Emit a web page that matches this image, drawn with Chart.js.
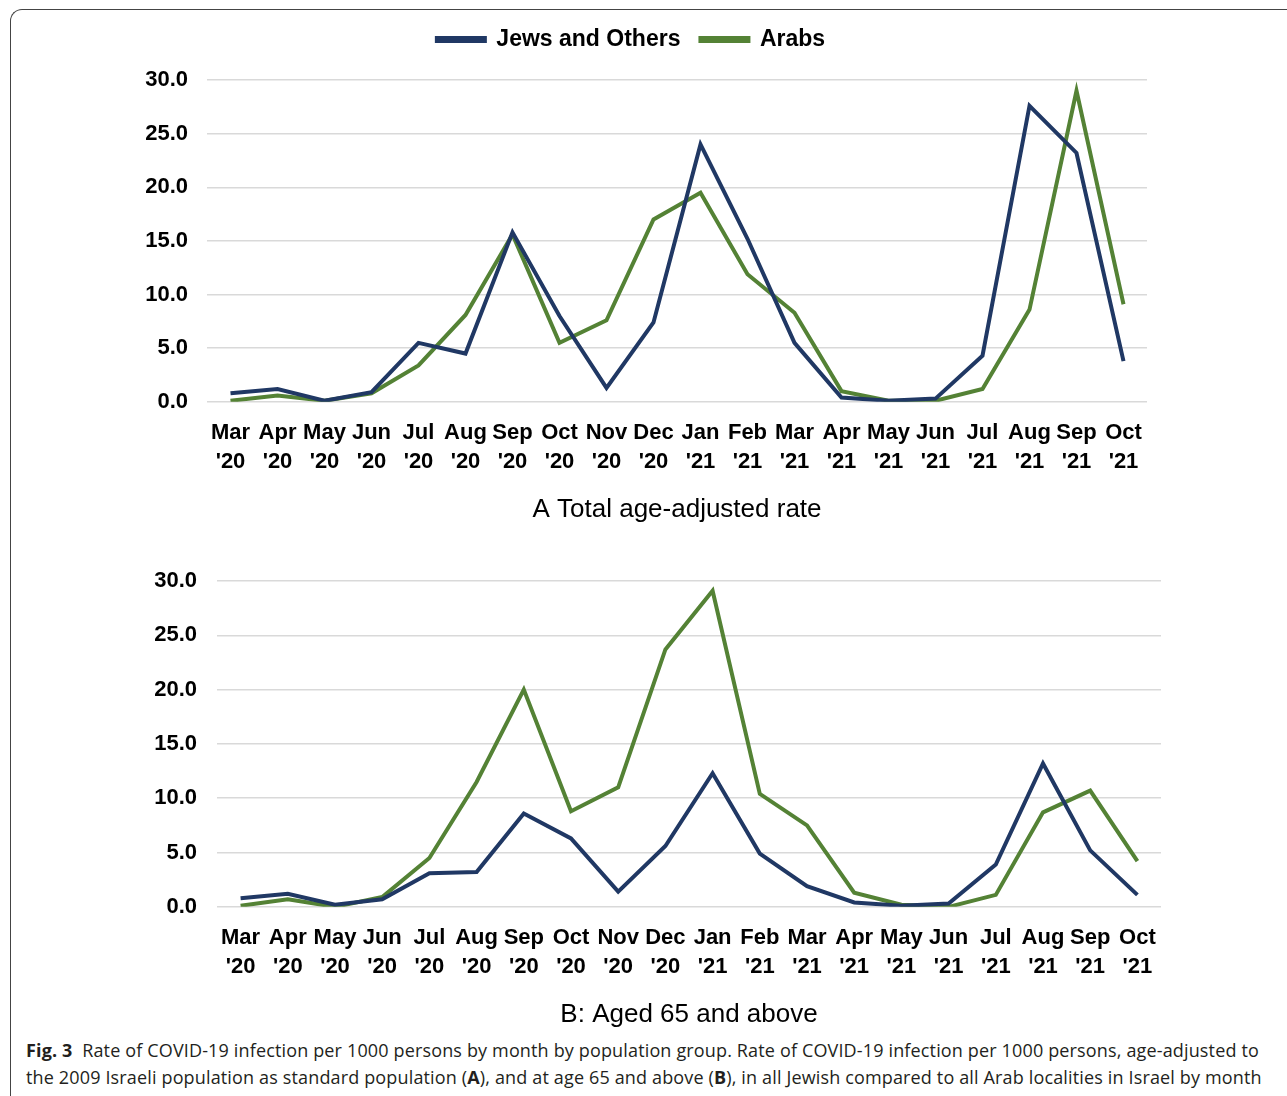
<!DOCTYPE html>
<html>
<head>
<meta charset="utf-8">
<script src="https://cdn.jsdelivr.net/npm/chart.js@4.4.1/dist/chart.umd.min.js"></script>
<style>
  body { margin: 0; background: #fff; width: 1287px; height: 1096px; overflow: hidden; position: relative; }
  .frame { position: absolute; left: 10px; top: 9px; width: 1400px; height: 1200px;
           border-left: 1.5px solid #444; border-top: 1.5px solid #444; border-top-left-radius: 12px; }
  .box { position: absolute; }
  .caption { position: absolute; left: 26px; top: 1037px; font-family: "Open Sans", "Noto Sans", sans-serif;
             font-size: 18px; line-height: 27px; color: #231f20; white-space: nowrap; letter-spacing: 0.15px; }
</style>
</head>
<body>
<div class="frame"></div>
<div class="box" id="boxA" style="left:115px; top:8px; width:1032px; height:517px;"><canvas id="chartA"></canvas></div>
<div class="box" id="boxB" style="left:125px; top:560px; width:1036px; height:470px;"><canvas id="chartB"></canvas></div>
<div class="caption">
  <b>Fig. 3</b>&nbsp; Rate of COVID-19 infection per 1000 persons by month by population group. Rate of COVID-19 infection per 1000 persons, age-adjusted to<br>
  the 2009 Israeli population as standard population (<b>A</b>), and at age 65 and above (<b>B</b>), in all Jewish compared to all Arab localities in Israel by month
</div>
<script>
// Data
const months = [
    ['Mar', "'20"], ['Apr', "'20"], ['May', "'20"], ['Jun', "'20"], ['Jul', "'20"],
    ['Aug', "'20"], ['Sep', "'20"], ['Oct', "'20"], ['Nov', "'20"], ['Dec', "'20"],
    ['Jan', "'21"], ['Feb', "'21"], ['Mar', "'21"], ['Apr', "'21"], ['May', "'21"],
    ['Jun', "'21"], ['Jul', "'21"], ['Aug', "'21"], ['Sep', "'21"], ['Oct', "'21"]
];
const seriesNames = ['Jews and Others', 'Arabs'];

// A: total age-adjusted rate
const jewsTotal  = [0.8, 1.2, 0.1, 0.9, 5.5, 4.5, 15.8, 8.0, 1.3, 7.4, 24.0, 15.2, 5.5, 0.4, 0.1, 0.3, 4.3, 27.6, 23.2, 3.8];
const arabsTotal = [0.1, 0.6, 0.1, 0.8, 3.4, 8.1, 15.6, 5.5, 7.6, 17.0, 19.5, 11.9, 8.3, 1.0, 0.1, 0.1, 1.2, 8.6, 29.0, 9.1];

// B: aged 65 and above
const jews65  = [0.8, 1.2, 0.2, 0.7, 3.1, 3.2, 8.6, 6.3, 1.4, 5.6, 12.3, 4.9, 1.9, 0.4, 0.1, 0.3, 3.9, 13.2, 5.2, 1.1];
const arabs65 = [0.1, 0.7, 0.0, 0.9, 4.5, 11.5, 20.0, 8.8, 11.0, 23.7, 29.1, 10.4, 7.5, 1.3, 0.2, 0.0, 1.1, 8.7, 10.7, 4.2];

const yTicks = [0, 5, 10, 15, 20, 25, 30];

const colors = ['#203864', '#548235'];
const fontFamily = "'Liberation Sans', Arial, sans-serif";
const tickFont = { family: fontFamily, size: 22, weight: 'bold', lineHeight: 1.34 };

// push the plot area down below the legend
const legendSpace = {
    id: 'legendSpace',
    beforeInit(chart) {
        if (!chart.legend) return;
        const fit = chart.legend.fit;
        chart.legend.fit = function() {
            fit.call(this);
            this.height += 19;
        };
    }
};

function makeChart(canvasId, jews, arabs, title, showLegend, tickPad, topPad) {
    const ctx = document.getElementById(canvasId).getContext('2d');
    return new Chart(ctx, {
        type: 'line',
        data: {
            labels: months,
            datasets: [
                { label: seriesNames[0], data: jews, borderColor: colors[0], backgroundColor: colors[0],
                  borderWidth: 4, pointRadius: 0, tension: 0 },
                { label: seriesNames[1], data: arabs, borderColor: colors[1], backgroundColor: colors[1],
                  borderWidth: 4, pointRadius: 0, tension: 0 }
            ]
        },
        options: {
            responsive: true,
            maintainAspectRatio: false,
            animation: false,
            layout: { padding: { top: topPad } },
            scales: {
                x: {
                    offset: true,
                    afterFit(scale) { scale.paddingLeft = 0; scale.paddingRight = 0; },
                    grid: { display: false, drawTicks: false },
                    border: { display: false },
                    ticks: { color: '#000', font: tickFont, padding: 16, maxRotation: 0, autoSkip: false },
                    title: {
                        display: true, text: title, color: '#000',
                        font: { family: fontFamily, size: 26, lineHeight: 1.2 },
                        padding: { top: 1, bottom: 0 }
                    }
                },
                y: {
                    min: 0, max: 30,
                    afterBuildTicks(scale) { scale.ticks = yTicks.map(v => ({ value: v })); },
                    afterFit(scale) { scale.width = 92; scale.paddingTop = 0; scale.paddingBottom = 0; },
                    grid: { color: '#d9d9d9', lineWidth: 1.5, drawTicks: false },
                    border: { display: false },
                    ticks: {
                        color: '#000', font: tickFont, padding: tickPad,
                        callback: function(value) { return Number(value).toFixed(1); }
                    }
                }
            },
            plugins: {
                legend: {
                    display: showLegend,
                    position: 'top',
                    labels: {
                        color: '#000',
                        boxWidth: 48, boxHeight: 3, padding: 20,
                        font: { family: fontFamily, size: 23, weight: 'bold' }
                    }
                },
                tooltip: { enabled: false }
            }
        },
        plugins: showLegend ? [legendSpace] : []
    });
}

makeChart('chartA', jewsTotal, arabsTotal, 'A Total age-adjusted rate', true, 19, 0);
makeChart('chartB', jews65, arabs65, 'B: Aged 65 and above', false, 20, 21);
</script>
</body>
</html>
